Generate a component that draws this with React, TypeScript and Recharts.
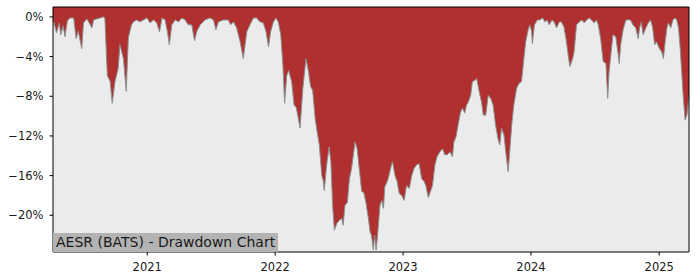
import { AreaChart, Area, XAxis, YAxis, CartesianGrid, ReferenceArea } from "recharts";

// drawdown samples (percent below running peak)
const dates = [
  "2020-04-07", "2020-04-10", "2020-04-17", "2020-04-25", "2020-04-29", "2020-05-06", "2020-05-11", "2020-05-18",
  "2020-05-25", "2020-06-05", "2020-06-12", "2020-06-18", "2020-06-28", "2020-07-03", "2020-07-13", "2020-07-27",
  "2020-08-01", "2020-08-10", "2020-08-29", "2020-09-02", "2020-09-09", "2020-09-17", "2020-09-23", "2020-10-01",
  "2020-10-10", "2020-10-15", "2020-10-25", "2020-11-02", "2020-11-08", "2020-11-17", "2020-11-22", "2020-12-02",
  "2020-12-11", "2020-12-21", "2020-12-31", "2021-01-09", "2021-01-19", "2021-01-28", "2021-02-05", "2021-02-12",
  "2021-02-21", "2021-02-28", "2021-03-05", "2021-03-12", "2021-03-22", "2021-03-31", "2021-04-10", "2021-04-19",
  "2021-04-28", "2021-05-08", "2021-05-16", "2021-05-22", "2021-06-01", "2021-06-15", "2021-06-29", "2021-07-09",
  "2021-07-16", "2021-07-23", "2021-08-06", "2021-08-20", "2021-08-27", "2021-09-04", "2021-09-13", "2021-09-23",
  "2021-10-02", "2021-10-12", "2021-10-21", "2021-10-31", "2021-11-09", "2021-11-19", "2021-11-28", "2021-12-06",
  "2021-12-13", "2021-12-19", "2021-12-27", "2022-01-03", "2022-01-10", "2022-01-17", "2022-01-23", "2022-01-28",
  "2022-02-03", "2022-02-09", "2022-02-12", "2022-02-17", "2022-02-24", "2022-03-02", "2022-03-08", "2022-03-13",
  "2022-03-21", "2022-03-30", "2022-04-06", "2022-04-12", "2022-04-18", "2022-04-25", "2022-05-01", "2022-05-07",
  "2022-05-14", "2022-05-18", "2022-05-21", "2022-05-28", "2022-06-04", "2022-06-09", "2022-06-14", "2022-06-19",
  "2022-06-26", "2022-07-03", "2022-07-10", "2022-07-14", "2022-07-19", "2022-07-26", "2022-08-01", "2022-08-07",
  "2022-08-17", "2022-08-23", "2022-08-29", "2022-09-05", "2022-09-11", "2022-09-17", "2022-09-24", "2022-09-29",
  "2022-10-03", "2022-10-08", "2022-10-12", "2022-10-16", "2022-10-21", "2022-10-27", "2022-11-01", "2022-11-06",
  "2022-11-10", "2022-11-17", "2022-11-23", "2022-11-29", "2022-12-02", "2022-12-09", "2022-12-15", "2022-12-21",
  "2022-12-28", "2023-01-04", "2023-01-11", "2023-01-19", "2023-01-25", "2023-02-01", "2023-02-09", "2023-02-16",
  "2023-02-23", "2023-03-02", "2023-03-07", "2023-03-14", "2023-03-21", "2023-03-26", "2023-04-02", "2023-04-08",
  "2023-04-16", "2023-04-24", "2023-04-30", "2023-05-07", "2023-05-15", "2023-05-22", "2023-05-26", "2023-06-01",
  "2023-06-07", "2023-06-14", "2023-06-20", "2023-06-26", "2023-07-01", "2023-07-06", "2023-07-13", "2023-07-18",
  "2023-07-25", "2023-07-30", "2023-08-06", "2023-08-13", "2023-08-18", "2023-08-25", "2023-09-01", "2023-09-08",
  "2023-09-15", "2023-09-22", "2023-09-29", "2023-10-04", "2023-10-09", "2023-10-16", "2023-10-21", "2023-10-28",
  "2023-11-02", "2023-11-07", "2023-11-13", "2023-11-21", "2023-11-28", "2023-12-05", "2023-12-10", "2023-12-17",
  "2023-12-24", "2023-12-29", "2024-01-03", "2024-01-05", "2024-01-11", "2024-01-19", "2024-01-26", "2024-02-03",
  "2024-02-10", "2024-02-16", "2024-02-22", "2024-03-01", "2024-03-07", "2024-03-14", "2024-03-22", "2024-03-28",
  "2024-04-04", "2024-04-10", "2024-04-16", "2024-04-21", "2024-04-29", "2024-05-03", "2024-05-10", "2024-05-18",
  "2024-05-25", "2024-06-01", "2024-06-08", "2024-06-15", "2024-06-22", "2024-06-29", "2024-07-06", "2024-07-11",
  "2024-07-18", "2024-07-25", "2024-08-02", "2024-08-07", "2024-08-11", "2024-08-19", "2024-08-22", "2024-08-30",
  "2024-09-06", "2024-09-09", "2024-09-13", "2024-09-20", "2024-09-28", "2024-10-04", "2024-10-11", "2024-10-18",
  "2024-10-26", "2024-11-02", "2024-11-06", "2024-11-11", "2024-11-16", "2024-11-24", "2024-12-01", "2024-12-07",
  "2024-12-13", "2024-12-19", "2024-12-24", "2025-01-02", "2025-01-08", "2025-01-13", "2025-01-18", "2025-01-23",
  "2025-01-27", "2025-02-03", "2025-02-09", "2025-02-15", "2025-02-20", "2025-02-25", "2025-03-02", "2025-03-06",
  "2025-03-11", "2025-03-16", "2025-03-21", "2025-03-25", "2025-03-27",
];

const drawdown = [
  -0.4, -0.6, -1.6, -0.6, -1.8, -0.9, -2.0, -0.4,
  -0.1, -0.1, -2.2, -1.4, -3.2, -0.6, -0.2, -1.1,
  -0.3, -0.2, 0, -0.1, -5.9, -6.5, -8.7, -6.5,
  -5.2, -2.8, -4.2, -7.5, -2.1, -0.8, -0.5, -0.3,
  -0.5, -0.3, -0.1, -0.6, -0.3, -0.6, -1.5, -0.1,
  -0.3, -1.6, -2.8, -0.8, -0.3, -0.5, -0.1, -0.3,
  -0.8, -0.8, -2.4, -1.5, -0.8, -0.3, -0.1, -0.3,
  -1.3, -0.5, -0.3, -0.3, -0.8, -0.5, -1.1, -2.5,
  -4.2, -1.5, -0.8, -0.1, -0.1, -0.5, -0.6, -1.5,
  -3.0, -1.5, -0.5, -0.1, -0.5, -1.8, -4.8, -8.7,
  -5.9, -5.4, -5.9, -6.5, -8.9, -9.1, -10.2, -11.2,
  -7.2, -4.2, -5.5, -7.0, -7.4, -10.2, -11.6, -12.9,
  -16.0, -16.5, -17.5, -14.9, -13.1, -14.6, -19.0, -21.5,
  -20.8, -20.5, -20.3, -21.0, -19.0, -18.7, -16.3, -15.3,
  -12.6, -13.3, -15.3, -17.6, -17.7, -18.7, -20.3, -21.7,
  -22.0, -23.5, -22.0, -23.5, -21.7, -19.0, -18.5, -19.3,
  -17.1, -16.6, -15.8, -14.9, -14.6, -16.0, -16.6, -17.8,
  -18.0, -18.5, -17.0, -17.3, -16.1, -15.3, -14.9, -14.8,
  -16.3, -16.6, -17.0, -18.2, -17.5, -17.0, -14.9, -14.1,
  -13.6, -13.3, -13.9, -13.9, -13.6, -14.1, -12.6, -12.1,
  -10.9, -9.6, -9.2, -9.7, -8.9, -8.6, -7.9, -6.5,
  -6.4, -6.2, -7.5, -8.6, -9.9, -9.9, -7.9, -8.2,
  -8.9, -10.9, -12.3, -12.9, -11.2, -11.9, -13.6, -15.6,
  -13.3, -10.9, -8.9, -7.2, -6.7, -6.5, -4.8, -2.5,
  -1.3, -0.8, -1.5, -2.7, -0.8, -0.3, -0.3, -0.1,
  -0.5, -0.3, -0.8, -0.3, -0.5, -1.1, -0.5, -0.5,
  -1.0, -2.2, -3.8, -5.0, -4.2, -3.5, -0.8, -0.5,
  -0.3, -0.6, -0.3, -0.1, -0.3, -0.6, -0.3, -0.8,
  -2.2, -4.5, -4.7, -8.2, -5.5, -2.8, -1.8, -2.0,
  -3.8, -4.7, -2.8, -1.3, -0.3, -0.3, -0.3, -0.8,
  -1.1, -2.2, -1.1, -0.5, -1.8, -1.1, -0.6, -0.3,
  -1.0, -2.8, -2.5, -3.2, -3.5, -4.2, -2.5, -1.1,
  -0.6, -1.1, -0.3, -0.1, -0.3, -1.1, -3.2, -5.5,
  -8.2, -10.4, -9.9, -8.6, -8.0,
];

const yTicks = [0, -4, -8, -12, -16, -20];
const tickYears = [2021, 2022, 2023, 2024, 2025];
const yDomain: [number, number] = [-23.7, 1];

const data = dates.map((d, i) => ({ t: Date.parse(d), dd: drawdown[i] }));
const xTicks = tickYears.map((y) => Date.UTC(y, 0, 1));
const tStart = data[0].t;
const tEnd = data[data.length - 1].t;

const font = "'DejaVu Sans', sans-serif";
const tickStyle = { fontSize: 11.5, fill: "#1a1a1a", fontFamily: font };

export default function App() {
  return (
    <div style={{ position: "absolute", left: 0, top: 0, width: 700, height: 280, background: "#fff" }}>
      <AreaChart
        width={700}
        height={280}
        data={data}
        margin={{ top: 7, right: 11, bottom: 0, left: 0 }}
      >
        <CartesianGrid horizontal={false} vertical={false} fill="#ebebeb" />
        <XAxis
          dataKey="t"
          type="number"
          domain={[tStart, tEnd]}
          ticks={xTicks}
          tickFormatter={(v) => String(new Date(v).getUTCFullYear())}
          height={28}
          tick={tickStyle}
          tickSize={3.5}
          tickMargin={7}
          axisLine={false}
          tickLine={{ stroke: "#000" }}
        />
        <YAxis
          type="number"
          domain={yDomain}
          allowDataOverflow
          ticks={yTicks}
          tickFormatter={(v) => (v === 0 ? "0%" : `\u2212${Math.abs(v)}%`)}
          width={53}
          tick={tickStyle}
          tickSize={3.5}
          tickMargin={6}
          axisLine={false}
          tickLine={{ stroke: "#000" }}
        />
        <Area
          type="linear"
          dataKey="dd"
          baseValue={yDomain[1]}
          fill="#b02f2f"
          fillOpacity={1}
          stroke="#8a8f8f"
          strokeWidth={1}
          isAnimationActive={false}
        />
        <ReferenceArea
          x1={tStart}
          x2={tEnd}
          y1={yDomain[0]}
          y2={yDomain[1]}
          fill="none"
          stroke="#000"
          strokeWidth={1}
        />
      </AreaChart>
      <div
        style={{
          position: "absolute",
          left: 53,
          top: 233,
          height: 19,
          lineHeight: "19px",
          padding: "0 3px",
          background: "#b3b3b3",
          color: "#1a1a1a",
          fontFamily: font,
          fontSize: 14,
          whiteSpace: "nowrap",
        }}
      >
        AESR (BATS) - Drawdown Chart
      </div>
    </div>
  );
}
